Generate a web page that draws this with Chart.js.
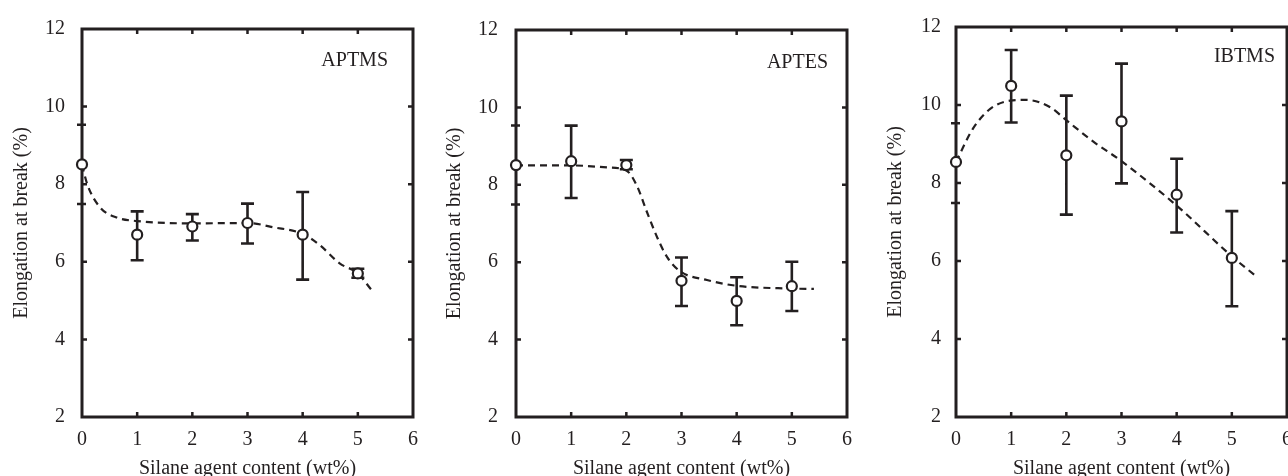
<!DOCTYPE html>
<html>
<head>
<meta charset="utf-8">
<script src="https://cdn.jsdelivr.net/npm/chart.js@4"></script>
<style>
  html, body { margin: 0; padding: 0; background: #fff; }
  body { width: 1288px; height: 476px; overflow: hidden; position: relative; }
  canvas { position: absolute; top: 0; }
</style>
</head>
<body>
<canvas id="c1" width="440" height="476" style="left:0"></canvas>
<canvas id="c2" width="440" height="476" style="left:430px"></canvas>
<canvas id="c3" width="450" height="476" style="left:860px"></canvas>
<script>
// silane content (wt%)
const content = [0, 1, 2, 3, 4, 5];

// APTMS
const aptmsMean = [8.51, 6.70, 6.91, 7.00, 6.70, 5.70];
const aptmsHigh = [null, 7.30, 7.23, 7.50, 7.80, 5.82];
const aptmsLow  = [null, 6.04, 6.55, 6.47, 5.54, 5.59];
const aptmsFitX = [0, 0.10, 0.33, 0.63, 1.0, 2.0, 3.0, 3.47, 4.0, 4.31, 4.67, 5.0, 5.25];
const aptmsFitY = [8.50, 7.98, 7.40, 7.14, 7.05, 6.99, 7.00, 6.89, 6.72, 6.43, 5.96, 5.70, 5.27];

// APTES
const aptesMean = [8.51, 8.61, 8.51, 5.52, 5.00, 5.38];
const aptesHigh = [null, 9.53, 8.64, 6.12, 5.61, 6.01];
const aptesLow  = [null, 7.66, 8.40, 4.87, 4.37, 4.74];
const aptesFitX = [0, 1.0, 1.65, 2.0, 2.19, 2.37, 2.56, 2.74, 2.98, 3.46, 4.0, 4.97, 5.4];
const aptesFitY = [8.50, 8.50, 8.45, 8.37, 7.98, 7.31, 6.64, 6.13, 5.76, 5.54, 5.39, 5.32, 5.31];

// IBTMS
const ibtmsMean = [8.54, 10.49, 8.71, 9.58, 7.70, 6.08];
const ibtmsHigh = [null, 11.41, 10.24, 11.06, 8.62, 7.28];
const ibtmsLow  = [null, 9.55, 7.19, 7.99, 6.73, 4.84];
const ibtmsFitX = [0, 0.31, 0.62, 0.98, 1.28, 1.71, 2.0, 2.49, 3.0, 4.0, 5.0, 5.43];
const ibtmsFitY = [8.54, 9.40, 9.90, 10.11, 10.13, 9.94, 9.61, 9.06, 8.56, 7.42, 6.12, 5.62];

// stray marks on the left axis of every panel
const strayMarks = [9.53, 7.49];

const ink = '#231f20';
const serif = '"Liberation Serif", "Times New Roman", serif';

function framePlugin(p) {
  return {
    id: 'frame' + p.id,
    beforeDatasetsDraw(chart) {
      const { ctx, chartArea: a, scales: { x, y } } = chart;
      ctx.save();
      ctx.strokeStyle = ink;
      ctx.lineWidth = 3;
      ctx.strokeRect(a.left, a.top, a.right - a.left, a.bottom - a.top);

      ctx.lineWidth = 2.5;
      ctx.beginPath();
      x.ticks.forEach(t => {
        if (t.value <= x.min || t.value >= x.max) return;
        const px = x.getPixelForValue(t.value);
        ctx.moveTo(px, a.top); ctx.lineTo(px, a.top + 5);
        ctx.moveTo(px, a.bottom); ctx.lineTo(px, a.bottom - 5);
      });
      y.ticks.forEach(t => {
        if (t.value <= y.min || t.value >= y.max) return;
        const py = y.getPixelForValue(t.value);
        ctx.moveTo(a.left, py); ctx.lineTo(a.left + 5, py);
        ctx.moveTo(a.right, py); ctx.lineTo(a.right - 5, py);
      });
      strayMarks.forEach(v => {
        const py = y.getPixelForValue(v);
        ctx.moveTo(a.left - 5, py); ctx.lineTo(a.left + 4, py);
      });
      ctx.stroke();

      // error bars
      ctx.lineWidth = 2.6;
      ctx.beginPath();
      content.forEach((c, i) => {
        if (p.high[i] == null) return;
        const px = x.getPixelForValue(c);
        const ph = y.getPixelForValue(p.high[i]);
        const pl = y.getPixelForValue(p.low[i]);
        ctx.moveTo(px, ph); ctx.lineTo(px, pl);
        ctx.moveTo(px - 6.5, ph); ctx.lineTo(px + 6.5, ph);
        ctx.moveTo(px - 6.5, pl); ctx.lineTo(px + 6.5, pl);
      });
      ctx.stroke();
      ctx.restore();
    },
    afterDraw(chart) {
      const { ctx, chartArea: a } = chart;
      ctx.save();
      ctx.fillStyle = ink;
      ctx.font = '20px ' + serif;
      ctx.textAlign = 'right';
      ctx.textBaseline = 'middle';
      ctx.fillText(p.name, a.right - p.nameGap, a.top + p.nameDy);
      ctx.restore();
    }
  };
}

function makePanel(p) {
  return new Chart(document.getElementById(p.id), {
    type: 'scatter',
    data: {
      datasets: [
        {
          data: content.map((c, i) => ({ x: c, y: p.mean[i] })),
          showLine: false,
          pointRadius: 5,
          pointBorderWidth: 2.2,
          pointBackgroundColor: '#fff',
          pointBorderColor: ink,
          clip: false
        },
        {
          type: 'line',
          data: p.fitX.map((v, i) => ({ x: v, y: p.fitY[i] })),
          borderColor: ink,
          borderWidth: 2.2,
          borderDash: [7, 5],
          pointRadius: 0,
          fill: false,
          cubicInterpolationMode: 'monotone',
          clip: false
        }
      ]
    },
    options: {
      responsive: false,
      animation: false,
      layout: { padding: { left: 0, right: p.padRight, top: p.padTop, bottom: 0 } },
      plugins: { legend: { display: false }, tooltip: { enabled: false } },
      scales: {
        x: {
          type: 'linear',
          min: 0, max: 6,
          grid: { display: false, drawTicks: false },
          border: { display: false },
          ticks: { stepSize: 1, padding: 11, color: ink, font: { family: serif, size: 20 } },
          title: {
            display: true,
            text: 'Silane agent content (wt%)',
            color: ink,
            font: { family: serif, size: 20, lineHeight: 1 },
            padding: { top: 0, bottom: -3 }
          },
          afterFit(s) { s.height = 59; }
        },
        y: {
          min: 2, max: 12,
          grid: { display: false, drawTicks: false },
          border: { display: false },
          ticks: { stepSize: 2, padding: p.tickPad, color: ink, font: { family: serif, size: 20 } },
          title: {
            display: true,
            text: 'Elongation at break (%)',
            color: ink,
            font: { family: serif, size: 20, lineHeight: 1 },
            padding: { top: p.titlePad, bottom: 0 }
          },
          afterFit(s) { s.width = p.yWidth; }
        }
      }
    },
    plugins: [framePlugin(p)]
  });
}

makePanel({ id: 'c1', name: 'APTMS', mean: aptmsMean, high: aptmsHigh, low: aptmsLow,
  fitX: aptmsFitX, fitY: aptmsFitY, yWidth: 82, padRight: 27, padTop: 21,
  tickPad: 17, titlePad: 12, nameGap: 25, nameDy: 31.5 });
makePanel({ id: 'c2', name: 'APTES', mean: aptesMean, high: aptesHigh, low: aptesLow,
  fitX: aptesFitX, fitY: aptesFitY, yWidth: 86, padRight: 23, padTop: 21,
  tickPad: 18, titlePad: 15, nameGap: 19, nameDy: 32.5 });
makePanel({ id: 'c3', name: 'IBTMS', mean: ibtmsMean, high: ibtmsHigh, low: ibtmsLow,
  fitX: ibtmsFitX, fitY: ibtmsFitY, yWidth: 96, padRight: 23, padTop: 20,
  tickPad: 15, titlePad: 26, nameGap: 12, nameDy: 29.5 });
</script>
</body>
</html>
